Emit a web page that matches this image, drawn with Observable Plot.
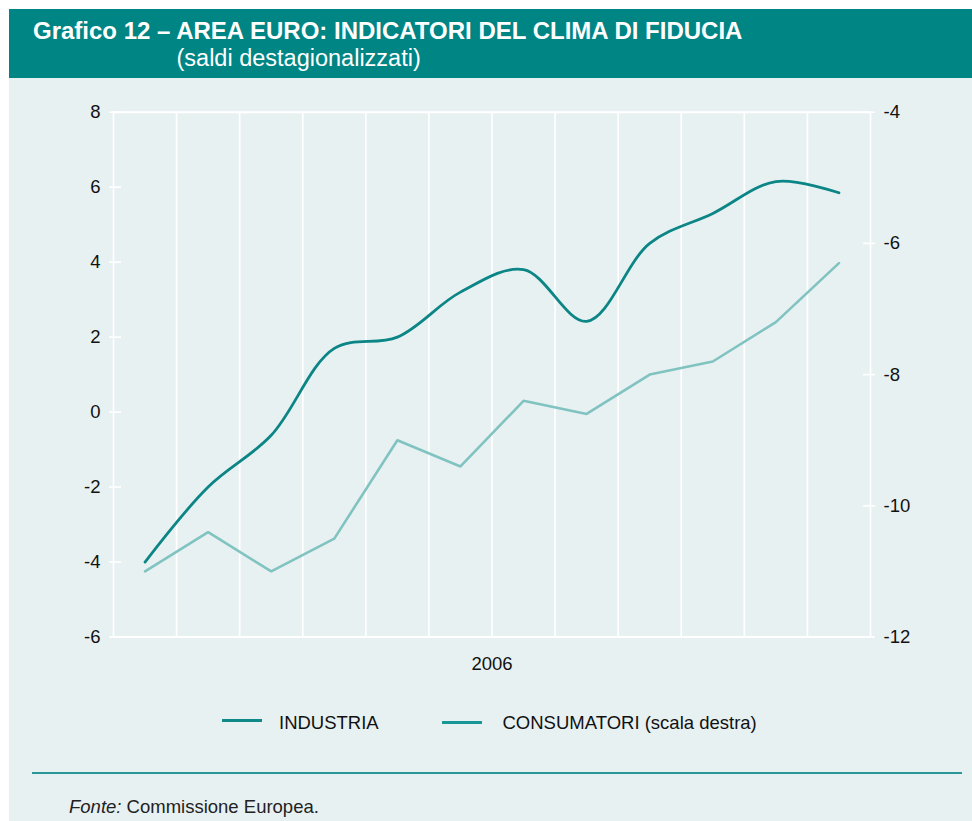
<!DOCTYPE html>
<html>
<head>
<meta charset="utf-8">
<script src="https://cdn.jsdelivr.net/npm/d3@7"></script>
<script src="https://cdn.jsdelivr.net/npm/@observablehq/plot@0.6"></script>
<style>
  html, body { margin: 0; padding: 0; background: #ffffff; }
  body { width: 972px; height: 821px; position: relative; overflow: hidden;
         font-family: "Liberation Sans", Arial, Helvetica, sans-serif; color: #111; }
  #panel { position: absolute; left: 9px; top: 9px; width: 963px; height: 812px; background: #e8f1f2; }
  #header { position: absolute; left: 9px; top: 9px; width: 963px; height: 69px; background: #008585; }
  .t { position: absolute; line-height: 1; white-space: nowrap; }
  #title { left: 33px; top: 18.7px; font-size: 24px; font-weight: bold; color: #fff; }
  #subtitle { left: 176.5px; top: 46.9px; font-size: 23.5px; color: #fff; }
  #chart { position: absolute; left: 0; top: 78px; }
  .sw { position: absolute; height: 3px; }
  .lg { font-size: 18.5px; top: 714.3px; }
  #rule { position: absolute; left: 32px; top: 772px; width: 930px; height: 2px; background: #2a9898; }
  #source { left: 69px; top: 798.3px; font-size: 18.5px; color: #222; }
</style>
</head>
<body>
<div id="panel"></div>
<div id="header"></div>
<div class="t" id="title">Grafico 12 – AREA EURO: INDICATORI DEL CLIMA DI FIDUCIA</div>
<div class="t" id="subtitle">(saldi destagionalizzati)</div>
<div id="chart"></div>
<div class="sw" style="left:222px;top:719px;width:40px;background:#0f8888;"></div>
<div class="t lg" style="left:279px;">INDUSTRIA</div>
<div class="sw" style="left:442px;top:720.5px;width:40px;background:#189797;"></div>
<div class="t lg" style="left:502.5px;">CONSUMATORI (scala destra)</div>
<div id="rule"></div>
<div class="t" id="source"><i>Fonte:</i> Commissione Europea.</div>
<script>
// ---- data (2006, monthly) ----
const months = ["gen", "feb", "mar", "apr", "mag", "giu", "lug", "ago", "set", "ott", "nov", "dic"];
const industria = [-4.0, -2.0, -0.62, 1.7, 2.0, 3.2, 3.8, 2.42, 4.5, 5.3, 6.15, 5.85];
const consumatori = [-11.0, -10.4, -11.0, -10.5, -9.0, -9.4, -8.4, -8.6, -8.0, -7.8, -7.2, -6.3];
const yLeftTicks = [-6, -4, -2, 0, 2, 4, 6, 8];
const yRightTicks = [-12, -10, -8, -6, -4];
const yearLabel = "2006";

// right scale [-12,-4] mapped onto left scale [-6,8]
const leftDom = [-6, 8], rightDom = [-12, -4];
const toLeft = v => leftDom[0] + (v - rightDom[0]) * (leftDom[1] - leftDom[0]) / (rightDom[1] - rightDom[0]);
const toRight = v => rightDom[0] + (v - leftDom[0]) * (rightDom[1] - rightDom[0]) / (leftDom[1] - leftDom[0]);

const rows = months.map((m, i) => ({pos: i + 0.5, month: m, ind: industria[i], con: toLeft(consumatori[i])}));
const monthEdges = d3.range(months.length + 1);

const chart = Plot.plot({
  width: 972,
  height: 620,
  marginLeft: 113,
  marginRight: 102,
  marginTop: 33.7,
  marginBottom: 61.5,
  style: "background: transparent; font-family: 'Liberation Sans', Arial, Helvetica, sans-serif; font-size: 18.5px; color: #111;",
  x: {domain: [0, months.length], label: null},
  y: {domain: leftDom, label: null},
  marks: [
    Plot.ruleX(monthEdges, {stroke: "#ffffff", strokeWidth: 1.6}),
    Plot.ruleY(leftDom, {stroke: "#ffffff", strokeWidth: 2}),
    Plot.axisY(yLeftTicks, {anchor: "left", text: null, tickSize: 12, dx: 8, stroke: "#ffffff", strokeWidth: 1.6}),
    Plot.axisY(yLeftTicks, {anchor: "left", tickSize: 0, tickPadding: 13, fill: "#111", tickFormat: d => String(d)}),
    Plot.axisY(yRightTicks.map(toLeft), {anchor: "right", text: null, tickSize: 12, dx: -8, stroke: "#ffffff", strokeWidth: 1.6}),
    Plot.axisY(yRightTicks.map(toLeft), {anchor: "right", tickSize: 0, tickPadding: 13, fill: "#111",
      tickFormat: d => String(Math.round(toRight(d)))}),
    Plot.axisX([months.length / 2], {anchor: "bottom", tickSize: 0, tickPadding: 20, fill: "#111", tickFormat: () => yearLabel}),
    Plot.line(rows, {x: "pos", y: "con", stroke: "#80c3c0", strokeWidth: 2.6, strokeLinejoin: "miter"}),
    Plot.line(rows, {x: "pos", y: "ind", stroke: "#0b8585", strokeWidth: 2.8, curve: "catmull-rom"})
  ]
});
document.getElementById("chart").appendChild(chart);
</script>
</body>
</html>
